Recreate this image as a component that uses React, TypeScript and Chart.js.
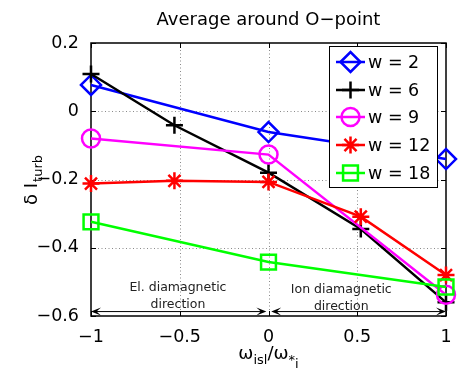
import React, { useEffect, useRef } from 'react';
import { Chart, registerables } from 'chart.js';
import * as helpers from 'chart.js/helpers';

Chart.register(...registerables);

// ---- data ----
const xFive = [-1, -0.53, 0, 0.52, 1];
const xThree = [-1, 0, 1];
const w2 = [0.077, -0.061, -0.14];
const w6 = [0.109, -0.041, -0.18, -0.345, -0.56];
const w9 = [-0.08, -0.127, -0.538];
const w12 = [-0.212, -0.204, -0.207, -0.309, -0.48];
const w18 = [-0.324, -0.442, -0.515];
const seriesLabels = ['w = 2', 'w = 6', 'w = 9', 'w = 12', 'w = 18'];
const xTicks = [-1, -0.5, 0, 0.5, 1];
const yTicks = [0.2, 0, -0.2, -0.4, -0.6];
const titleText = 'Average around O\u2212point';
const elText = ['El. diamagnetic', 'direction'];
const ionText = ['Ion diamagnetic', 'direction'];

const FONT = '"DejaVu Sans", sans-serif';

const fmt = (v: number) => {
  const n = Math.round(v * 10) / 10;
  if (n === 0) return '0';
  return n < 0 ? '\u2212' + String(Math.abs(n)) : String(n);
};

const styles = [
  { color: '#0000ff', pointStyle: 'rectRot', radius: 10 },
  { color: '#000000', pointStyle: 'cross', radius: 8.5 },
  { color: '#ff00ff', pointStyle: 'circle', radius: 9 },
  { color: '#ff0000', pointStyle: 'star', radius: 8.5 },
  { color: '#00ff00', pointStyle: 'rect', radius: 10.5 },
];

const zip = (xs: number[], ys: number[]) => xs.map((x, i) => ({ x, y: ys[i] }));

const drawArrowHead = (ctx: CanvasRenderingContext2D, tx: number, ty: number, dir: number) => {
  const L = 10;
  const W = 4;
  ctx.beginPath();
  ctx.moveTo(tx, ty);
  ctx.lineTo(tx - dir * L, ty - W);
  ctx.lineTo(tx - dir * L * 0.55, ty);
  ctx.lineTo(tx - dir * L, ty + W);
  ctx.closePath();
  ctx.fill();
};

const decorPlugin = {
  id: 'decor',
  beforeDatasetsDraw(chart: any) {
    const { ctx, chartArea: a, scales } = chart;
    const xs = scales.x;
    const ys = scales.y;
    ctx.save();
    ctx.strokeStyle = '#8a8a8a';
    ctx.lineWidth = 1;
    ctx.setLineDash([1, 2.5]);
    xTicks.forEach((v) => {
      if (v === xTicks[0] || v === xTicks[xTicks.length - 1]) return;
      const px = Math.round(xs.getPixelForValue(v)) + 0.5;
      ctx.beginPath();
      ctx.moveTo(px, a.top);
      ctx.lineTo(px, a.bottom);
      ctx.stroke();
    });
    yTicks.forEach((v) => {
      if (v === yTicks[0] || v === yTicks[yTicks.length - 1]) return;
      const py = Math.round(ys.getPixelForValue(v)) + 0.5;
      ctx.beginPath();
      ctx.moveTo(a.left, py);
      ctx.lineTo(a.right, py);
      ctx.stroke();
    });
    ctx.setLineDash([]);
    ctx.strokeStyle = '#000';
    ctx.lineWidth = 1.5;
    ctx.strokeRect(a.left, a.top, a.right - a.left, a.bottom - a.top);
    ctx.lineWidth = 1;
    const tl = 5;
    xTicks.forEach((v) => {
      const px = Math.round(xs.getPixelForValue(v)) + 0.5;
      ctx.beginPath();
      ctx.moveTo(px, a.bottom);
      ctx.lineTo(px, a.bottom - tl);
      ctx.moveTo(px, a.top);
      ctx.lineTo(px, a.top + tl);
      ctx.stroke();
    });
    yTicks.forEach((v) => {
      const py = Math.round(ys.getPixelForValue(v)) + 0.5;
      ctx.beginPath();
      ctx.moveTo(a.left, py);
      ctx.lineTo(a.left + tl, py);
      ctx.moveTo(a.right, py);
      ctx.lineTo(a.right - tl, py);
      ctx.stroke();
    });

    const ay = ys.getPixelForValue(-0.587);
    const l1 = xs.getPixelForValue(-1);
    const r1 = xs.getPixelForValue(-0.012);
    const l2 = xs.getPixelForValue(0.015);
    const r2 = xs.getPixelForValue(1);
    ctx.strokeStyle = '#000';
    ctx.fillStyle = '#000';
    ctx.lineWidth = 1;
    ctx.beginPath();
    ctx.moveTo(l1 + 2, ay);
    ctx.lineTo(r1 - 2, ay);
    ctx.moveTo(l2 + 2, ay);
    ctx.lineTo(r2 - 2, ay);
    ctx.stroke();
    drawArrowHead(ctx, l1, ay, -1);
    drawArrowHead(ctx, r1, ay, 1);
    drawArrowHead(ctx, l2, ay, -1);
    drawArrowHead(ctx, r2, ay, 1);

    ctx.fillStyle = '#222';
    ctx.font = '12.5px ' + FONT;
    ctx.textAlign = 'center';
    ctx.textBaseline = 'middle';
    const ex = xs.getPixelForValue(-0.51);
    ctx.fillText(elText[0], ex, ys.getPixelForValue(-0.518));
    ctx.fillText(elText[1], ex, ys.getPixelForValue(-0.568));
    const ix = xs.getPixelForValue(0.41);
    ctx.fillText(ionText[0], ix, ys.getPixelForValue(-0.524));
    ctx.fillText(ionText[1], ix, ys.getPixelForValue(-0.574));
    ctx.restore();
  },
  afterDraw(chart: any) {
    const { ctx, chartArea: a } = chart;
    ctx.save();
    ctx.fillStyle = '#000';
    ctx.font = '18px ' + FONT;
    ctx.textAlign = 'center';
    ctx.textBaseline = 'alphabetic';
    ctx.fillText(titleText, (a.left + a.right) / 2, 25);

    const main = '18px ' + FONT;
    const sub = '13px ' + FONT;
    const parts: [string, string, number][] = [
      ['\u03c9', main, 0],
      ['isl', sub, 5],
      ['/', main, 0],
      ['\u03c9', main, 0],
      ['*', sub, 5],
      ['i', sub, 9],
    ];
    let total = 0;
    parts.forEach(([t, f]) => {
      ctx.font = f;
      total += ctx.measureText(t).width;
    });
    let cx = (a.left + a.right) / 2 - total / 2;
    ctx.textAlign = 'left';
    parts.forEach(([t, f, dy]) => {
      ctx.font = f;
      ctx.fillText(t, cx, 359 + dy);
      cx += ctx.measureText(t).width;
    });

    ctx.save();
    ctx.translate(37, (a.top + a.bottom) / 2 + 1);
    ctx.rotate(-Math.PI / 2);
    ctx.font = main;
    const m1 = '\u03b4 I';
    const w1 = ctx.measureText(m1).width;
    ctx.font = sub;
    const s1 = 'turb';
    const ws = ctx.measureText(s1).width;
    const start = -(w1 + ws) / 2;
    ctx.font = main;
    ctx.fillText(m1, start, 0);
    ctx.font = sub;
    ctx.fillText(s1, start + w1 + 1, 5);
    ctx.restore();

    const lx = 329.5;
    const ly = 46.5;
    const lw = 108;
    const lh = 141;
    ctx.fillStyle = '#fff';
    ctx.fillRect(lx, ly, lw, lh);
    ctx.strokeStyle = '#000';
    ctx.lineWidth = 1;
    ctx.strokeRect(lx, ly, lw, lh);
    const rows = [62, 90, 117, 145, 173];
    seriesLabels.forEach((lab, i) => {
      const st = styles[i];
      const y = rows[i];
      ctx.strokeStyle = st.color;
      ctx.lineWidth = 2.5;
      ctx.beginPath();
      ctx.moveTo(336, y);
      ctx.lineTo(365, y);
      ctx.stroke();
      ctx.fillStyle = 'rgba(0,0,0,0)';
      helpers.drawPoint(ctx, { pointStyle: st.pointStyle, rotation: 0, radius: st.radius, borderWidth: 2.5 } as any, 350.5, y);
      ctx.fillStyle = '#000';
      ctx.font = '17.5px ' + FONT;
      ctx.textAlign = 'left';
      ctx.textBaseline = 'middle';
      ctx.fillText(lab, 368, y + 1);
    });
    ctx.restore();
  },
};

export default function App() {
  const ref = useRef<HTMLCanvasElement | null>(null);
  useEffect(() => {
    document.body.style.margin = '0';
    const canvas = ref.current;
    if (!canvas) return;
    const seriesData = [
      zip(xThree, w2),
      zip(xFive, w6),
      zip(xThree, w9),
      zip(xFive, w12),
      zip(xThree, w18),
    ];
    const chart = new Chart(canvas, {
      type: 'line',
      data: {
        datasets: seriesData.map((d, i) => ({
          label: seriesLabels[i],
          data: d,
          borderColor: styles[i].color,
          backgroundColor: 'rgba(0,0,0,0)',
          pointBackgroundColor: 'rgba(0,0,0,0)',
          pointBorderColor: styles[i].color,
          pointStyle: styles[i].pointStyle as any,
          pointRadius: styles[i].radius,
          pointBorderWidth: 2.5,
          borderWidth: 2.5,
          tension: 0,
          fill: false,
          clip: false as any,
          order: 5 - i,
        })),
      },
      options: {
        animation: false,
        responsive: false,
        devicePixelRatio: 1,
        layout: { padding: { top: 43, right: 7, left: 0, bottom: 0 } },
        plugins: {
          legend: { display: false },
          title: { display: false },
          tooltip: { enabled: false },
        },
        scales: {
          x: {
            type: 'linear',
            min: -1,
            max: 1,
            grid: { display: false },
            border: { display: false },
            afterBuildTicks: (s: any) => {
              s.ticks = xTicks.map((v) => ({ value: v }));
            },
            afterFit: (s: any) => {
              s.height = 55;
            },
            ticks: {
              padding: 3,
              color: '#000',
              font: { family: FONT, size: 17.5 },
              maxRotation: 0,
              autoSkip: false,
              callback: (v: any) => fmt(Number(v)),
            },
          },
          y: {
            type: 'linear',
            min: -0.6,
            max: 0.2,
            grid: { display: false },
            border: { display: false },
            afterBuildTicks: (s: any) => {
              s.ticks = yTicks.map((v) => ({ value: v }));
            },
            afterFit: (s: any) => {
              s.width = 91;
            },
            ticks: {
              padding: 4,
              color: '#000',
              font: { family: FONT, size: 17.5 },
              autoSkip: false,
              callback: (v: any) => fmt(Number(v)),
            },
          },
        },
      },
      plugins: [decorPlugin],
    });
    return () => chart.destroy();
  }, []);
  return (
    <div style={{ position: 'absolute', left: 0, top: 0, width: 459, height: 371 }}>
      <canvas ref={ref} width={459} height={371} style={{ display: 'block', width: 459, height: 371 }} />
    </div>
  );
}
